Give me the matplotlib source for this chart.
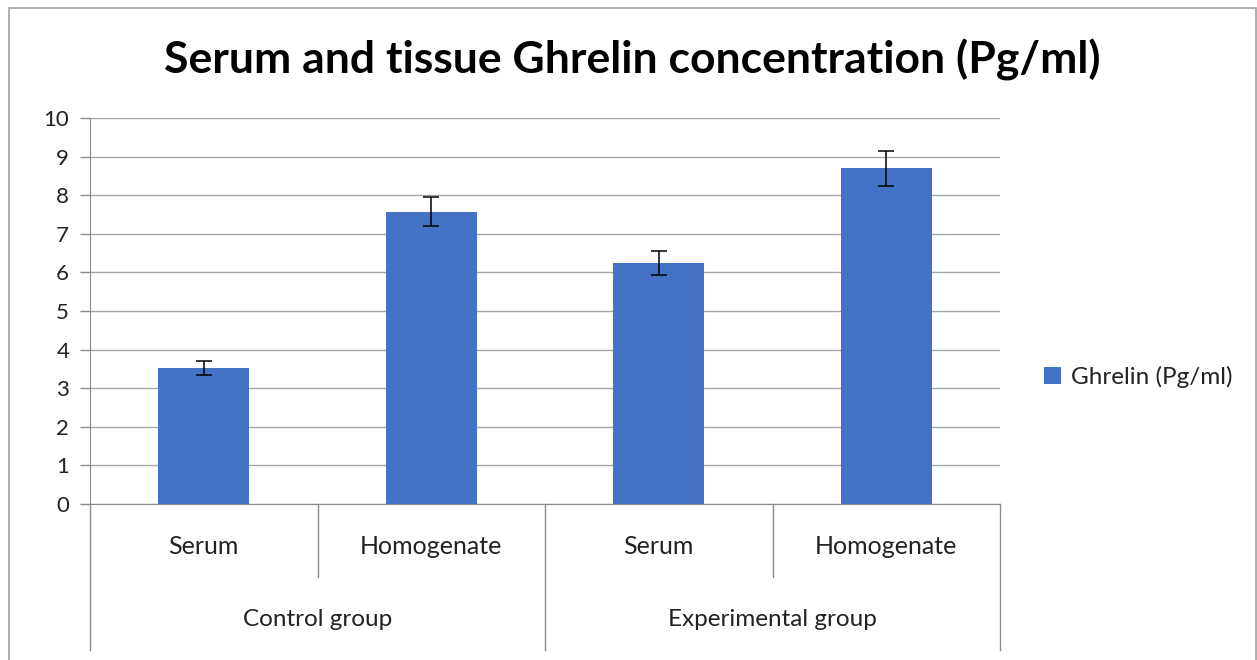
import matplotlib
matplotlib.use("Agg")
import matplotlib.pyplot as plt
from matplotlib.lines import Line2D
from matplotlib.patches import Rectangle
from matplotlib.transforms import blended_transform_factory

plt.rcParams['font.family'] = ['Lato', 'DejaVu Sans']

subcategories = ["Serum", "Homogenate", "Serum", "Homogenate"]
groups = ["Control group", "Experimental group"]
values = [3.52, 7.57, 6.25, 8.70]
errors = [0.18, 0.38, 0.31, 0.45]
series_name = "Ghrelin (Pg/ml)"
title = "Serum and tissue Ghrelin concentration (Pg/ml)"
yticks = list(range(0, 11))

W, H = 1257, 660
fig = plt.figure(figsize=(W / 100, H / 100), dpi=100)
fig.patch.set_facecolor("white")

# outer frame
fig.add_artist(Rectangle((8.5 / W, -0.05), (1256 - 8.5) / W, (H - 7.5) / H + 0.05,
                         transform=fig.transFigure, fill=False,
                         edgecolor="#a0a0a0", linewidth=1.2))

left, right, top, bottom = 90, 1000, 118, 504
ax = fig.add_axes([left / W, (H - bottom) / H, (right - left) / W, (bottom - top) / H])

x = list(range(len(values)))
color = "#4472C4"
ax.bar(x, values, width=0.40, color=color, zorder=3, label=series_name)
ax.errorbar(x, values, yerr=errors, fmt="none", ecolor="black", elinewidth=1.1,
            capsize=5.5, capthick=1.1, zorder=4)

ax.set_xlim(-0.5, len(values) - 0.5)
ax.set_ylim(0, 10)
ax.set_yticks(yticks)
ax.set_yticklabels([str(t) for t in yticks], fontsize=16, color="#222222")
ax.tick_params(axis="y", length=7, width=1, color="#8c8c8c", pad=8)
ax.tick_params(axis="x", length=0, labelbottom=False)
ax.grid(axis="y", color="#a6a6a6", linewidth=1, zorder=0)
for s in ["top", "right"]:
    ax.spines[s].set_visible(False)
ax.spines["left"].set_color("#8c8c8c")
ax.spines["bottom"].set_color("#8c8c8c")
ax.spines["left"].set_zorder(5)

# multi-level category axis
tr = blended_transform_factory(ax.transData, fig.transFigure)
def fy(py):
    return (H - py) / H

line_kw = dict(color="#8c8c8c", linewidth=1, transform=tr, clip_on=False)
for xe in [-0.5, len(values) - 0.5]:
    fig.add_artist(Line2D([xe, xe], [fy(bottom), fy(650)], **line_kw))
fig.add_artist(Line2D([1.5, 1.5], [fy(bottom), fy(650)], **line_kw))
for xs in [0.5, 2.5]:
    fig.add_artist(Line2D([xs, xs], [fy(bottom), fy(577)], **line_kw))

for xi, lab in zip(x, subcategories):
    fig.text(xi, fy(546), lab, transform=tr, ha="center", va="center",
             fontsize=18, color="#222222")
for gi, g in enumerate(groups):
    fig.text(2 * gi + 0.5, fy(620), g, transform=tr, ha="center", va="center",
             fontsize=17.5, color="#222222")

fig.text(632 / W, fy(60), title, ha="center", va="center", fontsize=32,
         fontweight="bold", color="black")

leg = fig.legend(loc="center left", bbox_to_anchor=(1022 / W, fy(377)),
                 frameon=False, fontsize=17.5, handlelength=0.7, handleheight=0.7,
                 handletextpad=0.4)
for t in leg.get_texts():
    t.set_color("#222222")

fig.savefig("out.png", dpi=100, facecolor="white")
